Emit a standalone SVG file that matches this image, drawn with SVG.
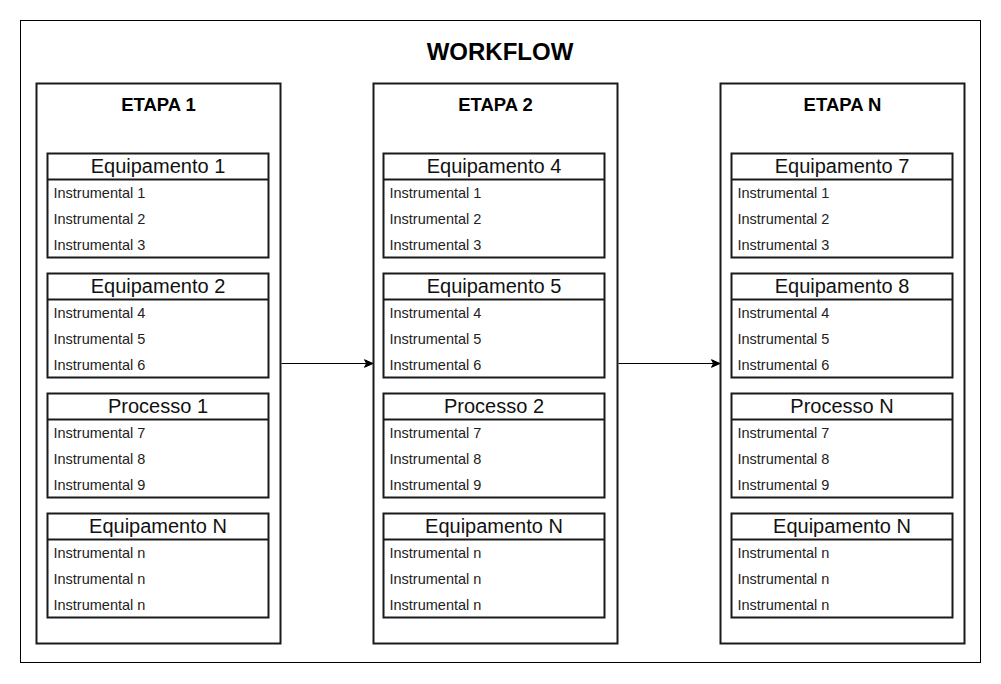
<svg xmlns="http://www.w3.org/2000/svg" width="1001" height="684" viewBox="0 0 1001 684">
<defs>
<style>
.bg{fill:#fff}
.outer{fill:#fff;stroke:#000;stroke-width:1}
.etapa{fill:#fff;stroke:#1a1a1a;stroke-width:2}
.box{fill:#fff;stroke:#1a1a1a;stroke-width:2}
.div{stroke:#1a1a1a;stroke-width:2}
.t{font-family:"Liberation Sans",Arial,sans-serif;fill:#000}
.title{font-size:24px;font-weight:bold;text-anchor:middle}
.etitle{font-size:18.5px;font-weight:bold;text-anchor:middle}
.head{font-size:20px;text-anchor:middle;fill:#111}
.item{font-size:14.5px;fill:#222}
.conn{stroke:#000;stroke-width:1.2;fill:none}
</style>
<marker id="arr" markerUnits="userSpaceOnUse" markerWidth="12" markerHeight="12" viewBox="0 0 12 12" refX="10" refY="6" orient="auto">
<path d="M1.5,2.2 L10,6 L1.5,9.8 L3.6,6 Z" fill="#000" stroke="#000" stroke-width="1"/>
</marker>
</defs>
<rect class="bg" x="0" y="0" width="1001" height="684"/>
<g id="workflow">
<rect class="outer" x="20.5" y="20.5" width="960" height="642"/>
<text class="t title" x="500" y="60">WORKFLOW</text>
</g>

<g id="connectors">
<line class="conn" x1="281.5" y1="363.5" x2="373" y2="363.5" marker-end="url(#arr)"/>
<line class="conn" x1="618.5" y1="363.5" x2="720" y2="363.5" marker-end="url(#arr)"/>
</g>

<g id="etapa1">
<rect class="etapa" x="36.5" y="83.5" width="244" height="560"/>
<text class="t etitle" x="158.5" y="110.5">ETAPA 1</text>
<g id="e1-equip1">
<rect class="box" x="47.5" y="153.5" width="221" height="104"/>
<line class="div" x1="47.5" y1="179.5" x2="268.5" y2="179.5"/>
<text class="t head" x="158" y="172.5">Equipamento 1</text>
<text class="t item" x="53.5" y="197.5">Instrumental 1</text>
<text class="t item" x="53.5" y="223.5">Instrumental 2</text>
<text class="t item" x="53.5" y="249.5">Instrumental 3</text>
</g>
<g id="e1-equip2">
<rect class="box" x="47.5" y="273.5" width="221" height="104"/>
<line class="div" x1="47.5" y1="299.5" x2="268.5" y2="299.5"/>
<text class="t head" x="158" y="292.5">Equipamento 2</text>
<text class="t item" x="53.5" y="317.5">Instrumental 4</text>
<text class="t item" x="53.5" y="343.5">Instrumental 5</text>
<text class="t item" x="53.5" y="369.5">Instrumental 6</text>
</g>
<g id="e1-proc1">
<rect class="box" x="47.5" y="393.5" width="221" height="104"/>
<line class="div" x1="47.5" y1="419.5" x2="268.5" y2="419.5"/>
<text class="t head" x="158" y="412.5">Processo 1</text>
<text class="t item" x="53.5" y="437.5">Instrumental 7</text>
<text class="t item" x="53.5" y="463.5">Instrumental 8</text>
<text class="t item" x="53.5" y="489.5">Instrumental 9</text>
</g>
<g id="e1-equipN">
<rect class="box" x="47.5" y="513.5" width="221" height="104"/>
<line class="div" x1="47.5" y1="539.5" x2="268.5" y2="539.5"/>
<text class="t head" x="158" y="532.5">Equipamento N</text>
<text class="t item" x="53.5" y="557.5">Instrumental n</text>
<text class="t item" x="53.5" y="583.5">Instrumental n</text>
<text class="t item" x="53.5" y="609.5">Instrumental n</text>
</g>
</g>

<g id="etapa2">
<rect class="etapa" x="373.5" y="83.5" width="244" height="560"/>
<text class="t etitle" x="495.5" y="110.5">ETAPA 2</text>
<g id="e2-equip4">
<rect class="box" x="383.5" y="153.5" width="221" height="104"/>
<line class="div" x1="383.5" y1="179.5" x2="604.5" y2="179.5"/>
<text class="t head" x="494" y="172.5">Equipamento 4</text>
<text class="t item" x="389.5" y="197.5">Instrumental 1</text>
<text class="t item" x="389.5" y="223.5">Instrumental 2</text>
<text class="t item" x="389.5" y="249.5">Instrumental 3</text>
</g>
<g id="e2-equip5">
<rect class="box" x="383.5" y="273.5" width="221" height="104"/>
<line class="div" x1="383.5" y1="299.5" x2="604.5" y2="299.5"/>
<text class="t head" x="494" y="292.5">Equipamento 5</text>
<text class="t item" x="389.5" y="317.5">Instrumental 4</text>
<text class="t item" x="389.5" y="343.5">Instrumental 5</text>
<text class="t item" x="389.5" y="369.5">Instrumental 6</text>
</g>
<g id="e2-proc2">
<rect class="box" x="383.5" y="393.5" width="221" height="104"/>
<line class="div" x1="383.5" y1="419.5" x2="604.5" y2="419.5"/>
<text class="t head" x="494" y="412.5">Processo 2</text>
<text class="t item" x="389.5" y="437.5">Instrumental 7</text>
<text class="t item" x="389.5" y="463.5">Instrumental 8</text>
<text class="t item" x="389.5" y="489.5">Instrumental 9</text>
</g>
<g id="e2-equipN">
<rect class="box" x="383.5" y="513.5" width="221" height="104"/>
<line class="div" x1="383.5" y1="539.5" x2="604.5" y2="539.5"/>
<text class="t head" x="494" y="532.5">Equipamento N</text>
<text class="t item" x="389.5" y="557.5">Instrumental n</text>
<text class="t item" x="389.5" y="583.5">Instrumental n</text>
<text class="t item" x="389.5" y="609.5">Instrumental n</text>
</g>
</g>

<g id="etapaN">
<rect class="etapa" x="720.5" y="83.5" width="244" height="560"/>
<text class="t etitle" x="842.5" y="110.5">ETAPA N</text>
<g id="eN-equip7">
<rect class="box" x="731.5" y="153.5" width="221" height="104"/>
<line class="div" x1="731.5" y1="179.5" x2="952.5" y2="179.5"/>
<text class="t head" x="842" y="172.5">Equipamento 7</text>
<text class="t item" x="737.5" y="197.5">Instrumental 1</text>
<text class="t item" x="737.5" y="223.5">Instrumental 2</text>
<text class="t item" x="737.5" y="249.5">Instrumental 3</text>
</g>
<g id="eN-equip8">
<rect class="box" x="731.5" y="273.5" width="221" height="104"/>
<line class="div" x1="731.5" y1="299.5" x2="952.5" y2="299.5"/>
<text class="t head" x="842" y="292.5">Equipamento 8</text>
<text class="t item" x="737.5" y="317.5">Instrumental 4</text>
<text class="t item" x="737.5" y="343.5">Instrumental 5</text>
<text class="t item" x="737.5" y="369.5">Instrumental 6</text>
</g>
<g id="eN-procN">
<rect class="box" x="731.5" y="393.5" width="221" height="104"/>
<line class="div" x1="731.5" y1="419.5" x2="952.5" y2="419.5"/>
<text class="t head" x="842" y="412.5">Processo N</text>
<text class="t item" x="737.5" y="437.5">Instrumental 7</text>
<text class="t item" x="737.5" y="463.5">Instrumental 8</text>
<text class="t item" x="737.5" y="489.5">Instrumental 9</text>
</g>
<g id="eN-equipN">
<rect class="box" x="731.5" y="513.5" width="221" height="104"/>
<line class="div" x1="731.5" y1="539.5" x2="952.5" y2="539.5"/>
<text class="t head" x="842" y="532.5">Equipamento N</text>
<text class="t item" x="737.5" y="557.5">Instrumental n</text>
<text class="t item" x="737.5" y="583.5">Instrumental n</text>
<text class="t item" x="737.5" y="609.5">Instrumental n</text>
</g>
</g>
</svg>
